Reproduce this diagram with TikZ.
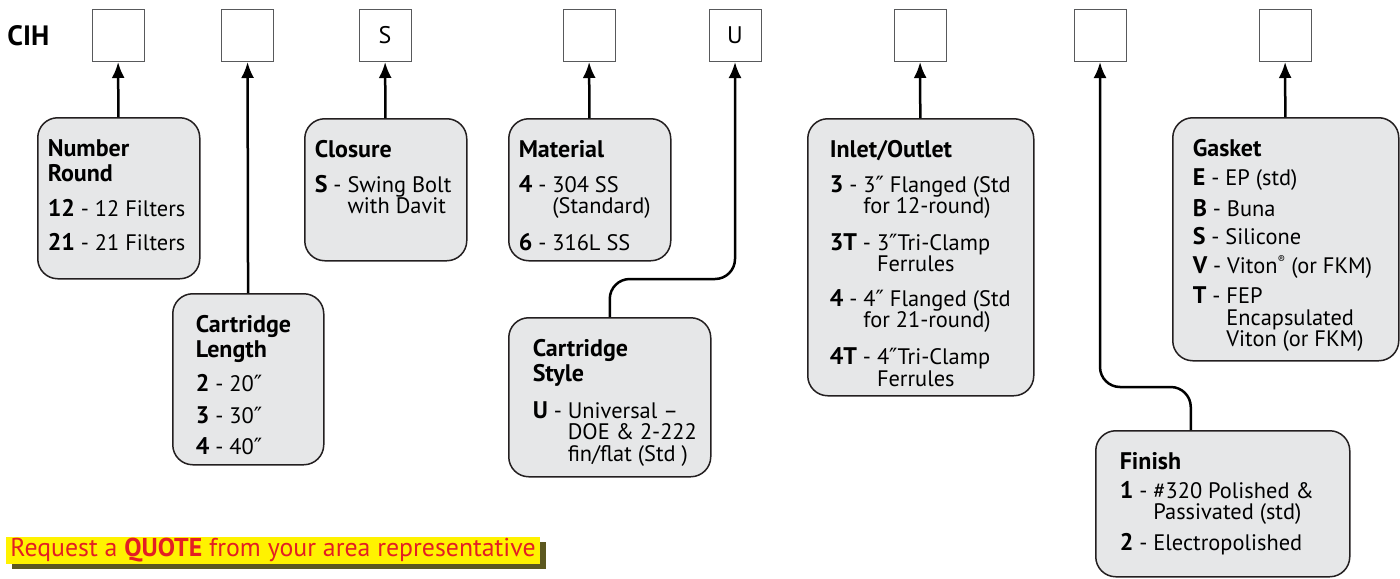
\documentclass[tikz,border=0pt]{standalone}
\usepackage{fontspec}
\setmainfont{PT Sans}
\newfontfamily\dejavu{DejaVu Sans}
\usetikzlibrary{arrows.meta,shadows}

\definecolor{cardgray}{HTML}{E6E7E8}
\definecolor{cardline}{HTML}{231F20}
\definecolor{slotline}{HTML}{58595B}
\definecolor{quoteyellow}{HTML}{FFF200}
\definecolor{quotered}{HTML}{E31E24}
\definecolor{quoteshadow}{HTML}{4A4608}

% card contents: width, height, left indent, gap between options, text
\newcommand{\cardtext}[5]{\parbox[c][#2][t]{#1}{\raggedright\leftskip=#3\relax\parskip=#4\relax #5}}
\newcommand{\hd}[1]{{\bfseries\fontsize{12}{12.5}\selectfont\rule{0pt}{19.5pt}#1\par}}
\newcommand{\opt}[2]{\par\setbox0=\hbox{{\bfseries\fontsize{12}{12}\selectfont #1} - }\hangindent=\wd0\hangafter=1\noindent\box0 #2}
\newcommand{\inch}{\iffontchar\font"2033 \char"2033\else{\dejavu\char"2033}\fi}
\newcommand{\reg}{\raisebox{0.45em}{\fontsize{5.5}{5.5}\selectfont ®}}

\begin{document}
\begin{tikzpicture}[
        x=0.5pt, y=-0.5pt,
        every node/.style={font=\fontsize{11.2}{10.75}\selectfont},
        slot/.style={draw=slotline, line width=0.5pt, minimum size=26pt, inner sep=0pt,
                     font=\fontsize{12}{12}\selectfont},
        card/.style={draw=cardline, line width=0.75pt, fill=cardgray, rounded corners=10pt,
                     inner xsep=5pt, inner ysep=0pt, anchor=north west},
        feed/.style={-{Latex[length=8pt,width=6.5pt]}, line width=1.25pt},
        quote/.style={fill=quoteyellow, text=quotered, minimum width=267pt, minimum height=13.5pt,
                      inner sep=0pt, font=\fontsize{12.9}{12.9}\selectfont,
                      drop shadow={shadow xshift=3pt, shadow yshift=-2.5pt, fill=quoteshadow, opacity=0.9}},
    ]
    \useasboundingbox (0,0) rectangle (1400,578);

    % --- Model code ---
    \node[anchor=west, inner sep=0pt, font=\bfseries\fontsize{14}{14}\selectfont] (cih) at (7,35.5) {CIH};
    \node[slot] (slotround)    at (118,35.5)   {};
    \node[slot] (slotlength)   at (247.5,35.5) {};
    \node[slot] (slotclosure)  at (385,35.5)   {S};
    \node[slot] (slotmaterial) at (589,35.5)   {};
    \node[slot] (slotstyle)    at (735,35.5)   {U};
    \node[slot] (slotinlet)    at (920,35.5)   {};
    \node[slot] (slotfinish)   at (1100,35.5)  {};
    \node[slot] (slotgasket)   at (1285,35.5)  {};

    % --- Option cards ---
    \node[card] (round) at (37,117) {\cardtext{71pt}{80.5pt}{0pt}{6.5pt}{%
        \hd{Number\newline Round}\opt{12}{12 Filters}\opt{21}{21 Filters}}};
    \node[card] (length) at (172,293) {\cardtext{65.5pt}{85.5pt}{6.5pt}{5pt}{%
        \hd{Cartridge\newline Length}\opt{2}{20\inch}\opt{3}{30\inch}\opt{4}{40\inch}}};
    \node[card] (closure) at (304,118) {\cardtext{71pt}{71pt}{0pt}{6.5pt}{%
        \hd{Closure}\opt{S}{Swing Bolt\newline with Davit}}};
    \node[card] (material) at (508,118) {\cardtext{71pt}{71pt}{0pt}{6.5pt}{%
        \hd{Material}\opt{4}{304 SS\newline (Standard)}\opt{6}{316L SS}}};
    \node[card] (style) at (508,317) {\cardtext{91pt}{79.5pt}{7pt}{6.5pt}{%
        \hd{Cartridge\newline Style}\opt{U}{Universal --\newline DOE \& 2-222\newline fin/flat (Std )}}};
    \node[card] (inlet) at (807,118) {\cardtext{103pt}{138.5pt}{6pt}{6.5pt}{%
        \hd{Inlet/Outlet}
        \opt{3}{3\inch\ Flanged (Std\newline for 12-round)}
        \opt{3T}{3\inch Tri-Clamp\newline Ferrules}
        \opt{4}{4\inch\ Flanged (Std\newline for 21-round)}
        \opt{4T}{4\inch Tri-Clamp\newline Ferrules}}};
    \node[card] (gasket) at (1172,117) {\cardtext{103pt}{121.5pt}{5pt}{3.5pt}{%
        \hd{Gasket}\opt{E}{EP (std)}\opt{B}{Buna}\opt{S}{Silicone}
        \opt{V}{Viton\reg\ (or FKM)}\opt{T}{FEP\newline Encapsulated\newline Viton (or FKM)}}};
    \node[card] (finish) at (1095,430) {\cardtext{117pt}{73pt}{7pt}{3.5pt}{%
        \hd{Finish}\opt{1}{\#320 Polished \&\newline Passivated (std)}\opt{2}{Electropolished}}};

    % --- Quote button ---
    \node[quote] (quote) at (273,550) {Request a \textbf{QUOTE} from your area representative};

    % --- Arrows ---
    \draw[feed] (round) -- (slotround);
    \draw[feed] (length) -- (slotlength);
    \draw[feed] (closure) -- (slotclosure);
    \draw[feed] (material) -- (slotmaterial);
    \draw[feed, rounded corners=10pt] (style.north) -- ++(0,-38) -| (slotstyle.south);
    \draw[feed] (inlet) -- (slotinlet);
    \draw[feed, rounded corners=10pt] ([xshift=-16pt]finish.north) -- ++(0,-43) -| (slotfinish.south);
    \draw[feed] (gasket) -- (slotgasket);
\end{tikzpicture}
\end{document}
